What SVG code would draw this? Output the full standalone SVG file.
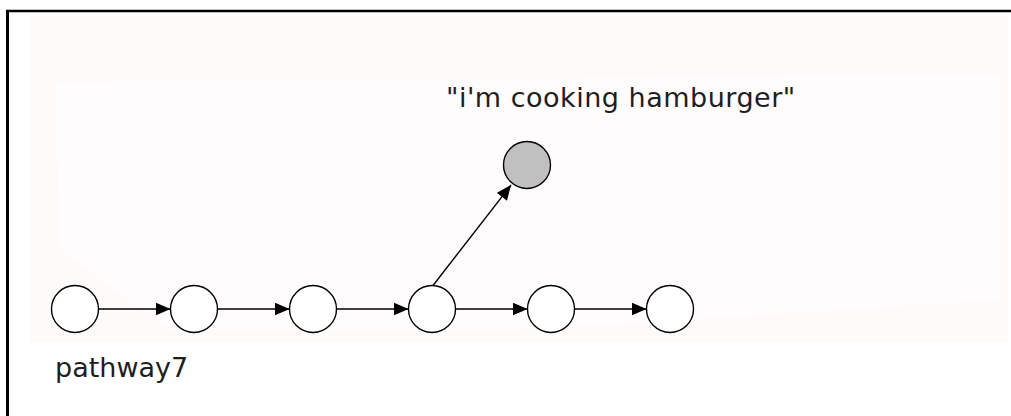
<svg xmlns="http://www.w3.org/2000/svg" width="1011" height="416" viewBox="0 0 1011 416">
<style>
.node{fill:#ffffff;stroke:#000;stroke-width:1.4}
.hl{fill:#c0c0c0}
.edge{stroke:#000;stroke-width:1.4;fill:none}
.lbl{font-family:"DejaVu Sans",Verdana,sans-serif;font-size:27px;fill:#1e1e1e}
</style>
<defs>
<marker id="ah" markerUnits="userSpaceOnUse" markerWidth="16" markerHeight="14" refX="15" refY="6.5" orient="auto">
<path d="M0,0 L15,6.5 L0,13 z" fill="#000"/>
</marker>
</defs>
<rect x="0" y="0" width="1011" height="416" fill="#ffffff"/>
<rect x="30" y="16" width="978" height="326" fill="#fdfafa"/>
<polygon points="55,82 1000,75 1000,300 520,330 170,330 60,250" fill="#ffffff" opacity="0.4"/>
<line x1="6" y1="11" x2="1011" y2="11" stroke="#000" stroke-width="2.5"/>
<line x1="7.5" y1="10" x2="7.5" y2="416" stroke="#000" stroke-width="3"/>
<g id="connectors">
<line class="edge" x1="98.5" y1="309" x2="170.5" y2="309" marker-end="url(#ah)"/>
<line class="edge" x1="217.5" y1="309" x2="289.5" y2="309" marker-end="url(#ah)"/>
<line class="edge" x1="336.5" y1="309" x2="408.5" y2="309" marker-end="url(#ah)"/>
<line class="edge" x1="455.5" y1="309" x2="527.5" y2="309" marker-end="url(#ah)"/>
<line class="edge" x1="574.5" y1="309" x2="646.5" y2="309" marker-end="url(#ah)"/>
<line class="edge" x1="433" y1="285.5" x2="511" y2="185" marker-end="url(#ah)"/>
</g>
<g id="n1"><circle class="node" cx="75" cy="309" r="23.5"/></g>
<g id="n2"><circle class="node" cx="194" cy="309" r="23.5"/></g>
<g id="n3"><circle class="node" cx="313" cy="309" r="23.5"/></g>
<g id="n4"><circle class="node" cx="432" cy="309" r="23.5"/></g>
<g id="n5"><circle class="node" cx="551" cy="309" r="23.5"/></g>
<g id="n6"><circle class="node" cx="670" cy="309" r="23.5"/></g>
<g id="n7"><circle class="node hl" cx="527" cy="165" r="23.5"/></g>
<text class="lbl" x="446" y="107" letter-spacing="0.5">"i'm cooking hamburger"</text>
<text class="lbl" x="55" y="377">pathway7</text>
</svg>
